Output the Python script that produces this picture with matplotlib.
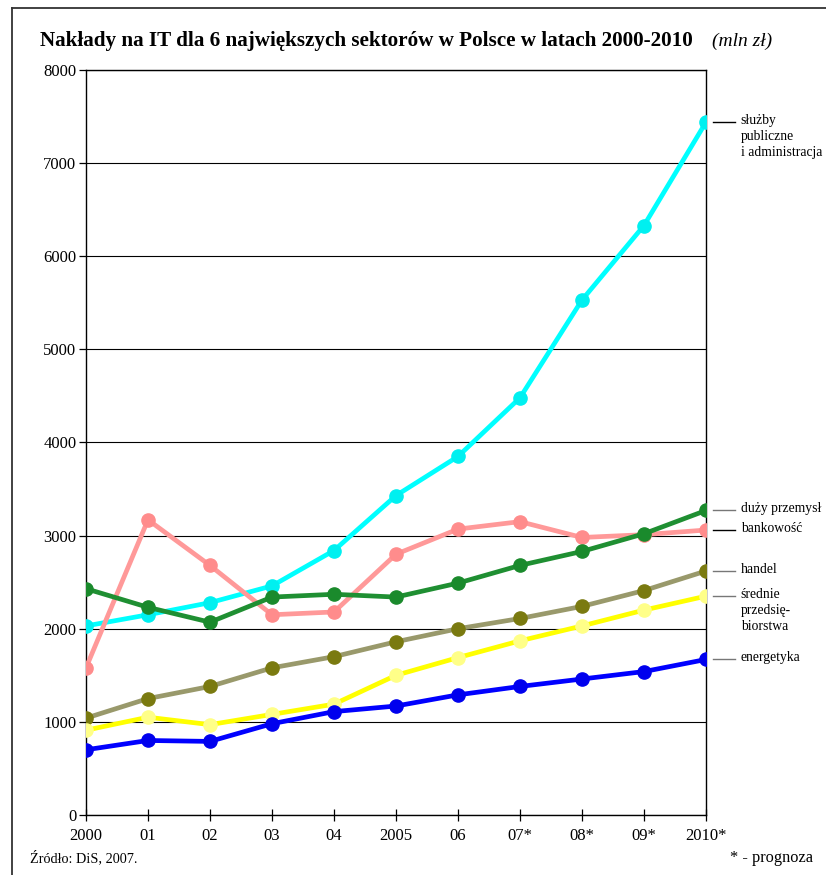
import matplotlib
matplotlib.use("Agg")
import matplotlib.pyplot as plt
import matplotlib.transforms as mtransforms
from matplotlib.lines import Line2D

# --- data (mln zł) ---
years = ["2000", "01", "02", "03", "04", "2005", "06", "07*", "08*", "09*", "2010*"]

sluzby     = [2030, 2150, 2280, 2460, 2840, 3430, 3850, 4480, 5530, 6330, 7440]
bankowosc  = [1580, 3170, 2680, 2150, 2180, 2800, 3070, 3150, 2980, 3010, 3060]
przemysl   = [2430, 2230, 2070, 2340, 2370, 2340, 2490, 2680, 2830, 3020, 3270]
handel     = [1040, 1250, 1380, 1580, 1700, 1860, 2000, 2110, 2240, 2410, 2620]
srednie    = [910, 1050, 970, 1080, 1190, 1500, 1690, 1870, 2030, 2200, 2350]
energetyka = [700, 800, 790, 980, 1110, 1170, 1290, 1380, 1460, 1540, 1670]

labels = ["służby\npubliczne\ni administracja", "bankowość", "duży przemysł",
          "handel", "średnie\nprzedsię-\nbiorstwa", "energetyka"]

SERIF = ["Liberation Serif", "DejaVu Serif"]

series = [
    # values, line colour, marker colour, label
    (sluzby,     "#00ffff", "#00f0f0", labels[0]),
    (bankowosc,  "#ff9999", "#ff8c8c", labels[1]),
    (przemysl,   "#1f8f32", "#1a8a2c", labels[2]),
    (handel,     "#99996b", "#7a7a10", labels[3]),
    (srednie,    "#ffff00", "#ffff88", labels[4]),
    (energetyka, "#0000ff", "#0000ee", labels[5]),
]

fig = plt.figure(figsize=(8.26, 8.75), dpi=100)
ax = fig.add_axes([0.1041, 0.0686, 0.7506, 0.8514])

x = list(range(len(years)))
for vals, lc, mc, lab in series:
    ax.plot(x, vals, color=lc, linewidth=3.4, marker="o", markersize=9.5,
            markerfacecolor=mc, markeredgecolor=mc, solid_capstyle="round",
            zorder=3)

ax.set_xlim(0, len(years) - 1)
ax.set_ylim(0, 8000)
ax.set_yticks(range(0, 8001, 1000))
ax.set_xticks(x)
ax.set_xticklabels(years)
ax.yaxis.grid(True, color="black", linewidth=0.8)
ax.set_axisbelow(True)

for sp in ax.spines.values():
    sp.set_linewidth(1.0)
    sp.set_color("black")

ax.tick_params(axis="y", direction="out", length=5, width=0.9, pad=2)
ax.tick_params(axis="x", direction="inout", length=9, width=0.9, pad=5)
for t in ax.get_xticklabels() + ax.get_yticklabels():
    t.set_fontfamily(SERIF)
    t.set_fontsize(12)

# --- series labels on the right with short leader lines ---
trans = mtransforms.blended_transform_factory(ax.transAxes, ax.transData)
for vals, lc, mc, lab in series:
    y_end = vals[-1]
    lead_col = "black" if lab.startswith(("służby", "bankowość")) else "#777777"
    ax.plot([1.011, 1.047], [y_end, y_end], transform=trans, color=lead_col,
            linewidth=1.0, clip_on=False)
    ax.annotate(lab, xy=(1.056, y_end), xycoords=trans, xytext=(0, 6),
                textcoords="offset points", ha="left", va="top",
                fontsize=9.8, family=SERIF, linespacing=1.3)

# --- title ---
fig.text(0.048, 0.953, "Nakłady na IT dla 6 największych sektorów w Polsce w latach 2000-2010",
         fontsize=15.2, fontweight="bold", family=SERIF, ha="left", va="center")
fig.text(0.862, 0.953, "(mln zł)", fontsize=14, style="italic", family=SERIF,
         ha="left", va="center")

# --- footer ---
fig.text(0.036, 0.020, "Źródło: DiS, 2007.", fontsize=10.3, family=SERIF,
         ha="left", va="center")
fig.text(0.984, 0.020, "* - prognoza", fontsize=11.8, family=SERIF,
         ha="right", va="center")

# frame around the figure (left and top edges visible)
fig.add_artist(Line2D([0.0145, 0.0145], [0.0, 0.991], transform=fig.transFigure,
                      color="#333333", linewidth=1.3))
fig.add_artist(Line2D([0.0145, 1.0], [0.991, 0.991], transform=fig.transFigure,
                      color="#333333", linewidth=1.3))

fig.savefig("out.png", dpi=100, facecolor="white")
